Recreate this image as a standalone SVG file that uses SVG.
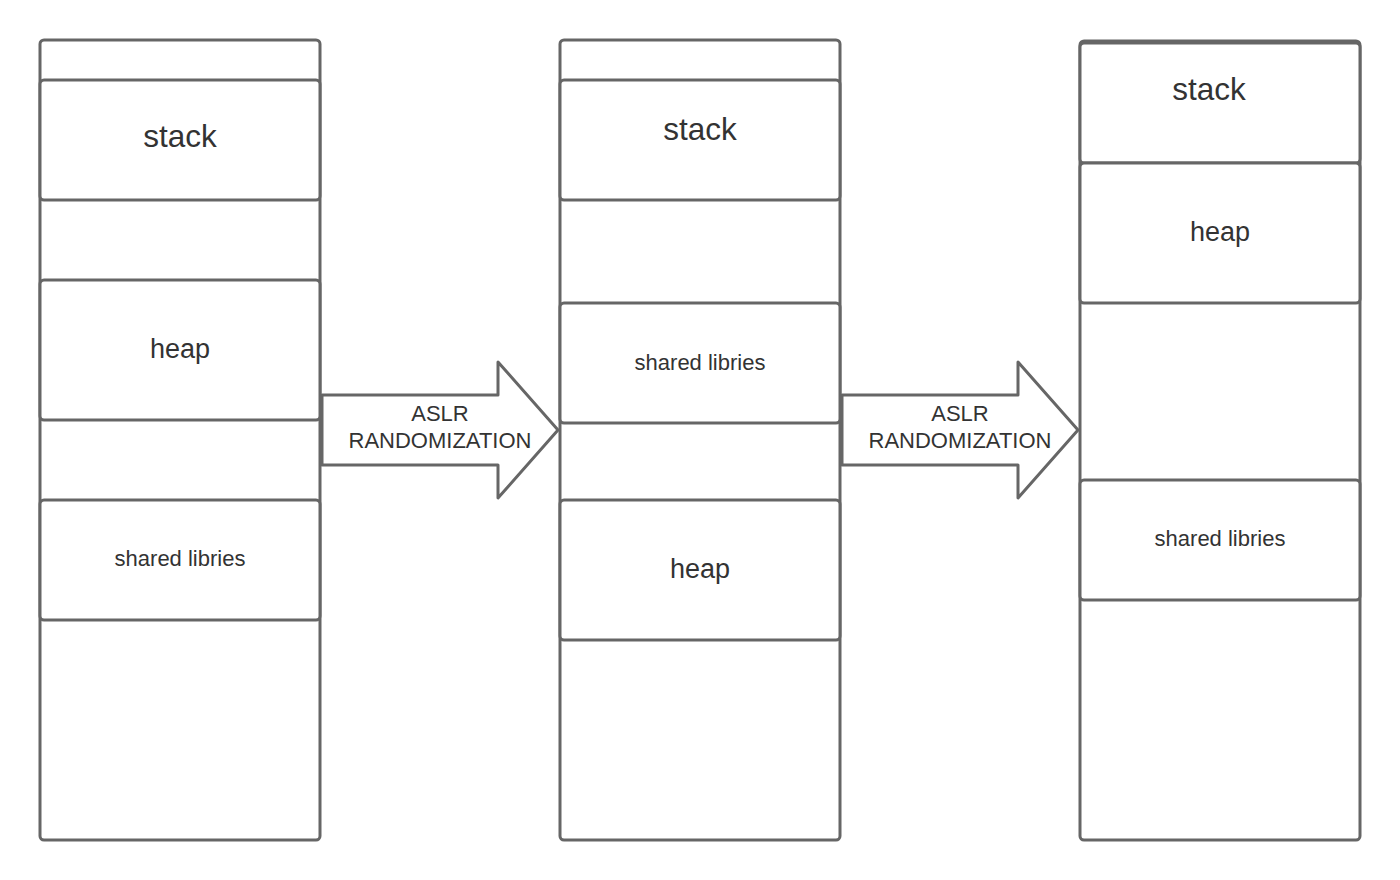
<svg xmlns="http://www.w3.org/2000/svg" width="1400" height="880" viewBox="0 0 1400 880">
<style>
.box{fill:#fff;stroke:#666;stroke-width:3}
.t{font-family:"Liberation Sans",Arial,sans-serif;fill:#333;text-anchor:middle}
.big{font-size:31.5px}
.mid{font-size:27px}
.sm{font-size:22px}
.arr{fill:#fff;stroke:#666;stroke-width:3;stroke-linejoin:round}
</style>
<rect width="1400" height="880" fill="#fff"/>
<g id="col1">
<rect class="box" x="40" y="40" width="280" height="800" rx="4"/>
<g id="c1-stack"><rect class="box" x="40" y="80" width="280" height="120" rx="4"/><text class="t big" x="180" y="147">stack</text></g>
<g id="c1-heap"><rect class="box" x="40" y="280" width="280" height="140" rx="4"/><text class="t mid" x="180" y="358">heap</text></g>
<g id="c1-shared"><rect class="box" x="40" y="500" width="280" height="120" rx="4"/><text class="t sm" x="180" y="566">shared libries</text></g>
</g>
<g id="col2">
<rect class="box" x="560" y="40" width="280" height="800" rx="4"/>
<g id="c2-stack"><rect class="box" x="560" y="80" width="280" height="120" rx="4"/><text class="t big" x="700" y="140">stack</text></g>
<g id="c2-shared"><rect class="box" x="560" y="303" width="280" height="120" rx="4"/><text class="t sm" x="700" y="370">shared libries</text></g>
<g id="c2-heap"><rect class="box" x="560" y="500" width="280" height="140" rx="4"/><text class="t mid" x="700" y="578">heap</text></g>
</g>
<g id="col3">
<rect class="box" x="1080" y="41" width="280" height="799" rx="4"/>
<g id="c3-stack"><rect class="box" x="1080" y="43" width="280" height="120" rx="4"/><text class="t big" x="1209" y="100">stack</text></g>
<g id="c3-heap"><rect class="box" x="1080" y="163" width="280" height="140" rx="4"/><text class="t mid" x="1220" y="241">heap</text></g>
<g id="c3-shared"><rect class="box" x="1080" y="480" width="280" height="120" rx="4"/><text class="t sm" x="1220" y="546">shared libries</text></g>
</g>
<g id="connectors">
<g id="arrow1">
<path class="arr" d="M322,395 H498 V362 L558,430 L498,498 V465 H322 Z"/>
<text class="t sm" x="440" y="421">ASLR</text>
<text class="t sm" x="440" y="448">RANDOMIZATION</text>
</g>
<g id="arrow2">
<path class="arr" d="M842,395 H1018 V362 L1078,430 L1018,498 V465 H842 Z"/>
<text class="t sm" x="960" y="421">ASLR</text>
<text class="t sm" x="960" y="448">RANDOMIZATION</text>
</g>
</g>
</svg>
